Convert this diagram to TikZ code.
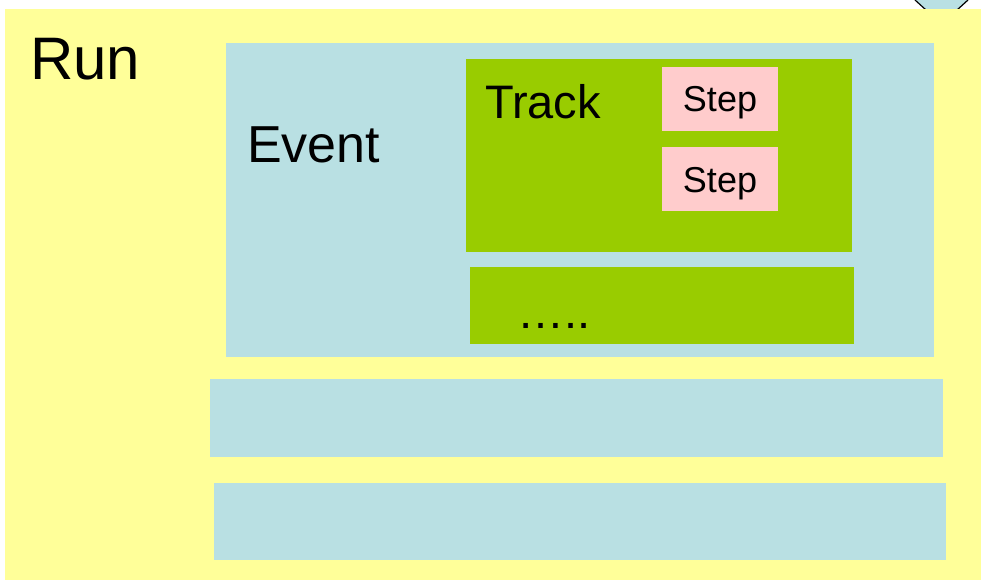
\documentclass[tikz,border=0pt]{standalone}
\usepackage{fontspec}
\setmainfont{Liberation Sans}
\definecolor{runyellow}{HTML}{FFFF99}
\definecolor{evblue}{HTML}{B9E0E3}
\definecolor{trgreen}{HTML}{99CC00}
\definecolor{steppink}{HTML}{FFCCCC}
\begin{document}
\begin{tikzpicture}[x=1pt,y=-1pt,
  lbl/.style={inner sep=0pt,anchor=base west,text=black},
  steplbl/.style={inner sep=0pt,anchor=base,text=black,font=\fontsize{36}{36}\selectfont}]
\useasboundingbox (0,0) rectangle (981,580);
% partial shape at top right
\fill[evblue] (915,0) -- (925,9) -- (958,9) -- (968,0) -- cycle;
\draw[black,line width=1.2pt] (915,0) -- (926,10) (968,0) -- (957,10);
% run
\fill[runyellow] (5,9) rectangle (981,580);
\node[lbl,font=\fontsize{60}{60}\selectfont] (run) at (30,80) {Run};
% event
\fill[evblue] (226,43) rectangle (934,357);
\node[lbl,font=\fontsize{52}{52}\selectfont] (event) at (247,163) {Event};
% track
\fill[trgreen] (466,59) rectangle (852,252);
\node[lbl,font=\fontsize{47}{47}\selectfont] (track) at (485,119) {Track};
\fill[steppink] (662,67) rectangle (778,131);
\node[steplbl] (s1) at (720,112) {Step};
\fill[steppink] (662,147) rectangle (778,211);
\node[steplbl] (s2) at (720,192) {Step};
% dots
\fill[trgreen] (470,267) rectangle (854,344);
\node[lbl,font=\fontsize{47}{47}\selectfont] (dots) at (517,328) {…..};
% other events
\fill[evblue] (210,379) rectangle (943,457);
\fill[evblue] (214,483) rectangle (946,560);
\end{tikzpicture}
\end{document}
